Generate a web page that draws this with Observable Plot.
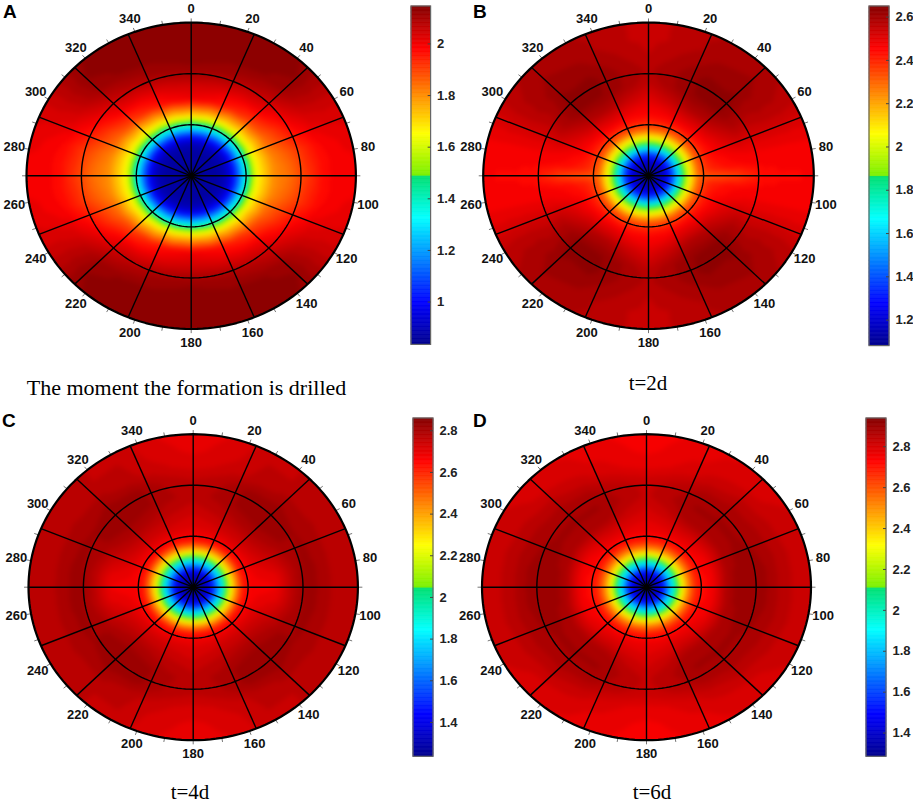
<!DOCTYPE html>
<html>
<head>
<meta charset="utf-8">
<script src="https://cdn.jsdelivr.net/npm/d3@7"></script>
<script src="https://cdn.jsdelivr.net/npm/@observablehq/plot@0.6"></script>
<style>
  body {margin: 0; background: white; width: 913px; height: 804px; position: relative; overflow: hidden;}
  .abs {position: absolute;}
  .abs svg {overflow: visible; background: transparent;}
  .letter {position: absolute; font: bold 19px "Liberation Sans"; line-height: 19px;}
  .caption {position: absolute; font: 21px "Liberation Serif"; line-height: 18px; white-space: nowrap; transform: translateX(-50%);}
</style>
</head>
<body>
<script>
// angle of each row (0 = top, 90 = right), the picture is mirrored left/right and up/down
const angles = [0, 15, 30, 45, 60, 75, 83, 90]
// radius as a share of the outer circle
const radii = [0, .05, .1, .15, .2, .25, .3, .35, .4, .5, .6, .7, .8, .9, 1]

const fieldA = [
  [.84, .85, .86, .87, .885, 1.0, 1.23, 1.5, 1.72, 2.0, 2.05, 2.12, 2.14, 2.145, 2.14],
  [.84, .85, .86, .87, .885, 1.0, 1.23, 1.5, 1.71, 1.98, 2.04, 2.11, 2.135, 2.14, 2.14],
  [.84, .85, .86, .87, .885, 1.0, 1.22, 1.49, 1.70, 1.94, 2.02, 2.09, 2.13, 2.14, 2.14],
  [.84, .85, .86, .87, .885, .99, 1.21, 1.48, 1.68, 1.90, 2.0, 2.06, 2.11, 2.125, 2.12],
  [.84, .85, .86, .87, .885, .98, 1.2, 1.47, 1.67, 1.85, 1.93, 2.0, 2.04, 2.05, 2.05],
  [.84, .85, .86, .87, .885, .98, 1.19, 1.46, 1.66, 1.81, 1.87, 1.93, 1.98, 2.0, 2.01],
  [.84, .85, .86, .87, .885, .98, 1.19, 1.46, 1.66, 1.80, 1.85, 1.92, 1.97, 1.995, 2.0],
  [.84, .85, .86, .87, .885, .98, 1.18, 1.45, 1.66, 1.80, 1.84, 1.91, 1.97, 1.995, 2.0]
]
const fieldB = [
  [1.09, 1.12, 1.2, 1.42, 1.8, 2.06, 2.3, 2.4, 2.45, 2.5, 2.55, 2.57, 2.55, 2.54, 2.54],
  [1.09, 1.12, 1.2, 1.42, 1.8, 2.06, 2.3, 2.41, 2.46, 2.54, 2.6, 2.6, 2.58, 2.56, 2.56],
  [1.09, 1.12, 1.2, 1.42, 1.8, 2.06, 2.3, 2.41, 2.48, 2.58, 2.63, 2.635, 2.61, 2.59, 2.58],
  [1.09, 1.12, 1.2, 1.42, 1.8, 2.06, 2.3, 2.41, 2.47, 2.57, 2.63, 2.63, 2.62, 2.6, 2.59],
  [1.09, 1.12, 1.2, 1.42, 1.8, 2.06, 2.3, 2.4, 2.45, 2.52, 2.57, 2.56, 2.57, 2.57, 2.56],
  [1.09, 1.12, 1.2, 1.42, 1.8, 2.06, 2.3, 2.39, 2.43, 2.46, 2.48, 2.48, 2.48, 2.48, 2.48],
  [1.09, 1.12, 1.2, 1.42, 1.8, 2.06, 2.3, 2.38, 2.41, 2.44, 2.45, 2.46, 2.46, 2.46, 2.46],
  [1.09, 1.12, 1.2, 1.42, 1.8, 2.06, 2.28, 2.32, 2.33, 2.35, 2.39, 2.44, 2.45, 2.45, 2.46]
]
const fieldC = [
  [1.24, 1.27, 1.38, 1.68, 2.05, 2.38, 2.62, 2.69, 2.71, 2.74, 2.77, 2.76, 2.72, 2.7, 2.69],
  [1.24, 1.27, 1.38, 1.68, 2.05, 2.38, 2.62, 2.69, 2.72, 2.76, 2.79, 2.78, 2.74, 2.72, 2.71],
  [1.24, 1.27, 1.38, 1.68, 2.05, 2.38, 2.62, 2.69, 2.73, 2.78, 2.82, 2.82, 2.77, 2.76, 2.75],
  [1.24, 1.27, 1.38, 1.68, 2.05, 2.38, 2.62, 2.69, 2.73, 2.79, 2.83, 2.83, 2.79, 2.76, 2.76],
  [1.24, 1.27, 1.38, 1.68, 2.05, 2.38, 2.62, 2.68, 2.72, 2.77, 2.81, 2.81, 2.79, 2.77, 2.77],
  [1.24, 1.27, 1.38, 1.68, 2.05, 2.38, 2.62, 2.67, 2.69, 2.72, 2.78, 2.82, 2.79, 2.77, 2.77],
  [1.24, 1.27, 1.38, 1.68, 2.05, 2.38, 2.62, 2.67, 2.68, 2.69, 2.77, 2.83, 2.79, 2.77, 2.77],
  [1.24, 1.27, 1.38, 1.68, 2.05, 2.38, 2.62, 2.66, 2.67, 2.68, 2.77, 2.83, 2.79, 2.77, 2.77]
]
const fieldD = [
  [1.29, 1.33, 1.5, 1.85, 2.2, 2.5, 2.68, 2.75, 2.77, 2.8, 2.83, 2.82, 2.77, 2.75, 2.74],
  [1.29, 1.33, 1.5, 1.85, 2.2, 2.5, 2.68, 2.75, 2.78, 2.83, 2.86, 2.84, 2.79, 2.77, 2.76],
  [1.29, 1.33, 1.5, 1.85, 2.2, 2.5, 2.68, 2.75, 2.79, 2.87, 2.89, 2.87, 2.82, 2.79, 2.78],
  [1.29, 1.33, 1.5, 1.85, 2.2, 2.5, 2.68, 2.75, 2.78, 2.87, 2.89, 2.88, 2.84, 2.8, 2.79],
  [1.29, 1.33, 1.5, 1.85, 2.2, 2.5, 2.68, 2.74, 2.76, 2.86, 2.89, 2.88, 2.85, 2.82, 2.81],
  [1.29, 1.33, 1.5, 1.85, 2.2, 2.5, 2.68, 2.73, 2.75, 2.87, 2.9, 2.89, 2.86, 2.83, 2.82],
  [1.29, 1.33, 1.5, 1.85, 2.2, 2.5, 2.68, 2.72, 2.75, 2.88, 2.9, 2.9, 2.86, 2.83, 2.82],
  [1.29, 1.33, 1.5, 1.85, 2.2, 2.5, 2.68, 2.72, 2.75, 2.88, 2.9, 2.9, 2.86, 2.83, 2.82]
]

const angleLabels = [0, 20, 40, 60, 80, 100, 120, 140, 160, 180, 200, 220, 240, 260, 280, 300, 320, 340]
const tickAngles = [0, 10, 20, 30, 40, 50, 60, 70, 80, 90, 100, 110, 120, 130, 140, 150, 160, 170, 180, 190, 200, 210, 220, 230, 240, 250, 260, 270, 280, 290, 300, 310, 320, 330, 340, 350]
const spokeAngles = [0, 22.5, 45, 67.5, 90, 112.5, 135, 157.5, 180, 202.5, 225, 247.5, 270, 292.5, 315, 337.5]
const ringRadii = [1 / 3, 2 / 3]

const jetStops = [0, .125, .25, .375, .4999, .5001, .625, .75, .875, 1]
const jetColors = ["#00008b", "#0000ff", "#0080ff", "#00ffff", "#00e070", "#78f000", "#ffff00", "#ff8000", "#ff0000", "#850000"]
const jet = d3.scaleLinear().domain(jetStops).range(jetColors)

// layout: box = svg position, cx/cy/rx/ry = ellipse in page pixels, bar = colorbar in page pixels
const panels = [
  {letter: "A", field: fieldA, box: [0, 0], cx: 190.7, cy: 175.3, rx: 164.7, ry: 153.2, bar: [410.7, 430.3, 6.3, 344.7], dom: [.834, 2.145],
    ticks: [1, 1.2, 1.4, 1.6, 1.8, 2], lx: 3, ly: 2, caption: "The moment the formation is drilled", capx: 186.5, capy: 378.6, capSize: 22},
  {letter: "B", field: fieldB, box: [458, 0], cx: 648, cy: 175.3, rx: 165.3, ry: 153.2, bar: [868.7, 888.7, 5.7, 345.3], dom: [1.08, 2.649],
    ticks: [1.2, 1.4, 1.6, 1.8, 2, 2.2, 2.4, 2.6], lx: 473, ly: 2, caption: "t=2d", capx: 648, capy: 373.6, capSize: 21},
  {letter: "C", field: fieldC, box: [0, 402], cx: 192.7, cy: 586.7, rx: 164.7, ry: 153, bar: [412.7, 432.7, 417.7, 756], dom: [1.235, 2.859],
    ticks: [1.4, 1.6, 1.8, 2, 2.2, 2.4, 2.6, 2.8], lx: 2, ly: 411, caption: "t=4d", capx: 190, capy: 783, capSize: 21},
  {letter: "D", field: fieldD, box: [458, 402], cx: 646, cy: 586.7, rx: 164.5, ry: 153, bar: [866, 886, 417.7, 756], dom: [1.284, 2.938],
    ticks: [1.4, 1.6, 1.8, 2, 2.2, 2.4, 2.6, 2.8], lx: 473, ly: 411, caption: "t=6d", capx: 652, capy: 783, capSize: 21}
]

const font = "Liberation Sans"
const polar = (deg, r) => [r * Math.sin(deg * Math.PI / 180), r * Math.cos(deg * Math.PI / 180)]

function place(node, left, top) {
  const div = document.createElement("div")
  div.className = "abs"
  div.style.left = left + "px"
  div.style.top = top + "px"
  node.style.maxWidth = "none"
  div.appendChild(node)
  document.body.appendChild(div)
}

function colorScale(dom) {
  // 64 flat levels, like the bands in the original
  const levels = 64
  const thresholds = d3.range(1, levels).map(i => dom[0] + (dom[1] - dom[0]) * i / levels)
  const colors = d3.range(levels).map(i => jet((i + .5) / levels))
  return {type: "threshold", domain: thresholds, range: colors}
}

function drawPanel(p, id) {
  const [ox, oy] = p.box
  const w = 458, h = 402

  // turn the quarter table into full circle points
  const pts = []
  p.field.forEach((row, i) => {
    row.forEach((v, j) => {
      if (radii[j] == 0) {
        if (i == 0) pts.push({a: 0, r: 0, v})
        return
      }
      new Set([angles[i], 180 - angles[i], 180 + angles[i], 360 - angles[i]].map(a => a % 360))
        .forEach(a => pts.push({a, r: radii[j], v}))
    })
  })

  const circle = d3.range(0, 361, 2)
  const rings = ringRadii.flatMap(r => circle.map(a => ({a, r})))

  const chart = Plot.plot({
    width: w,
    height: h,
    margin: 0,
    x: {domain: [-1, 1], range: [p.cx - p.rx - ox, p.cx + p.rx - ox], axis: null},
    y: {domain: [-1, 1], range: [p.cy + p.ry - oy, p.cy - p.ry - oy], axis: null},
    color: colorScale(p.dom),
    style: {fontFamily: font, background: "transparent"},
    marks: [
      Plot.raster(pts, {
        x: d => polar(d.a, d.r)[0],
        y: d => polar(d.a, d.r)[1],
        fill: "v",
        interpolate: "barycentric",
        blur: 2,
        pixelSize: 1
      }),
      Plot.line(rings, {x: d => polar(d.a, d.r)[0], y: d => polar(d.a, d.r)[1], z: "r", stroke: "black", strokeWidth: 1.4}),
      Plot.link(spokeAngles, {
        x1: 0, y1: 0,
        x2: d => polar(d, 1)[0],
        y2: d => polar(d, 1)[1],
        stroke: "black", strokeWidth: 1.4
      }),
      Plot.link(tickAngles, {
        x1: d => polar(d, 1)[0],
        y1: d => polar(d, 1)[1],
        x2: d => polar(d, 1.027)[0],
        y2: d => polar(d, 1.027)[1],
        stroke: "#666", strokeWidth: .9
      }),
      Plot.line(circle, {x: d => polar(d, 1)[0], y: d => polar(d, 1)[1], stroke: "black", strokeWidth: 2.2}),
      Plot.dot([0], {x: 0, y: 0, r: 2.6, fill: "black"}),
      Plot.text(angleLabels, {
        x: d => polar(d, 1.09)[0],
        y: d => polar(d, 1.09)[1],
        text: d => String(d),
        fontSize: 13,
        fontWeight: "bold",
        fill: "#111"
      })
    ]
  })

  // keep the raster inside the ellipse
  const svg = d3.select(chart)
  svg.append("clipPath").attr("id", "clip" + id).append("ellipse")
    .attr("cx", p.cx - ox).attr("cy", p.cy - oy).attr("rx", p.rx).attr("ry", p.ry)
  svg.select("image").attr("clip-path", `url(#clip${id})`)
  place(chart, ox, oy)

  // colorbar
  const [bx1, bx2, by1, by2] = p.bar
  const n = 256
  const bands = d3.range(n).map(i => ({
    lo: p.dom[0] + (p.dom[1] - p.dom[0]) * i / n,
    hi: p.dom[0] + (p.dom[1] - p.dom[0]) * (i + 1) / n
  }))
  const bar = Plot.plot({
    width: 62,
    height: Math.ceil(by2 - by1) + 8,
    margin: 0,
    x: {domain: [0, 1], range: [1, bx2 - bx1 + 1], axis: null},
    y: {domain: p.dom, range: [by2 - by1 + 1, 1], axis: null},
    color: {
      type: "linear",
      domain: jetStops.map(t => p.dom[0] + t * (p.dom[1] - p.dom[0])),
      range: jetColors
    },
    style: {fontFamily: font, background: "transparent"},
    marks: [
      Plot.rect(bands, {x1: 0, x2: 1, y1: "lo", y2: "hi", fill: d => (d.lo + d.hi) / 2, stroke: d => (d.lo + d.hi) / 2, strokeWidth: .6}),
      Plot.rect([0], {x1: 0, x2: 1, y1: p.dom[0], y2: p.dom[1], stroke: "#666", strokeWidth: 1.2, fill: "none"}),
      Plot.ruleY(p.ticks, {y: d => d, x1: .85, x2: 1, stroke: "#444"}),
      Plot.text(p.ticks, {
        x: 1, y: d => d, text: d => String(d), dx: 6, textAnchor: "start",
        fontSize: 13, fontWeight: "bold", fill: "#222"
      })
    ]
  })
  place(bar, bx1 - 1, by1 - 1)

  const letter = document.createElement("div")
  letter.className = "letter"
  letter.textContent = p.letter
  letter.style.left = p.lx + "px"
  letter.style.top = p.ly + "px"
  document.body.appendChild(letter)

  const cap = document.createElement("div")
  cap.className = "caption"
  cap.textContent = p.caption
  cap.style.left = p.capx + "px"
  cap.style.top = p.capy + "px"
  cap.style.fontSize = p.capSize + "px"
  document.body.appendChild(cap)
}

panels.forEach((p, i) => drawPanel(p, i))
</script>
</body>
</html>
